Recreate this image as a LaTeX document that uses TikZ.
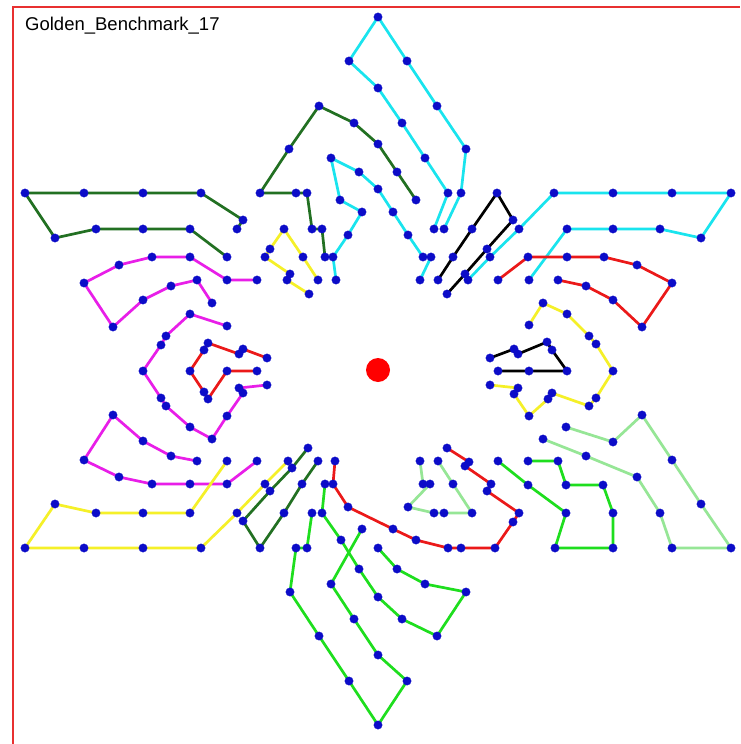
\documentclass[tikz,border=0pt]{standalone}
\usepackage{fontspec}
\setmainfont{Liberation Sans}
\usetikzlibrary{plotmarks}

\definecolor{dotblue}{RGB}{12,12,200}
\definecolor{framered}{RGB}{232,48,48}
\definecolor{tcyan}{RGB}{25,228,238}
\definecolor{tdkgreen}{RGB}{34,112,34}
\definecolor{tmagenta}{RGB}{232,30,232}
\definecolor{tred}{RGB}{235,25,25}
\definecolor{tyellow}{RGB}{245,240,40}
\definecolor{tltgreen}{RGB}{150,230,150}
\definecolor{tgreen}{RGB}{30,222,30}
\definecolor{tblack}{RGB}{0,0,0}

\tikzset{
  trace/.style={draw=#1, line width=2.7pt, line join=round,
    mark=*, mark size=4.2pt,
    mark options={draw=dotblue, fill=dotblue, line width=0.3pt}},
}

\begin{document}
\begin{tikzpicture}[x=1pt,y=-1pt]
  \useasboundingbox (0,0) rectangle (740,744);
  \fill[white] (0,0) rectangle (740,744);

  % frame and title
  \draw[framered, line width=2.4pt] (13,744) -- (13,7) -- (740,7);
  \node[anchor=base west, inner sep=0pt, font=\fontsize{18.5}{20}\selectfont]
    (title) at (25,30.5) {Golden\_Benchmark\_17};

  % top arm
  \draw[trace=tcyan] plot coordinates {(434,229) (448,193) (425,158) (402,123) (378,88) (349,61) (378,17) (407,61) (437,106) (466,149) (461,193) (444,229)};
  \draw[trace=tcyan] plot coordinates {(336,280) (333,257) (348,235) (362,212) (340,200) (331,158) (359,172) (378,189) (393,212) (408,235) (423,257) (431,257) (420,280)};
  \draw[trace=tdkgreen] plot coordinates {(416,200) (397,172) (378,144) (354,123) (319,106) (289,149) (260,193) (296,193) (307,193) (312,229) (322,229) (325,257)};
  \draw[trace=tyellow] plot coordinates {(318,280) (303,257) (284,229) (270,249) (265,257) (290,274) (287,280) (309,294)};
  \draw[trace=tblack] plot coordinates {(438,280) (453,257) (472,229) (497,193) (513,220) (487,249) (465,274) (447,294)};

  % upper left arm
  \draw[trace=tdkgreen] plot coordinates {(237,229) (243,220) (201,193) (143,193) (84,193) (25,193) (55,238) (96,229) (143,229) (190,229) (227,257)};
  \draw[trace=tmagenta] plot coordinates {(257,280) (227,280) (190,257) (152,257) (119,265) (84,283) (113,327) (143,300) (171,286) (197,280) (212,303)};

  % left arm
  \draw[trace=tmagenta] plot coordinates {(227,326) (190,314) (166,336) (161,345) (143,371) (161,398) (166,406) (190,427) (212,439) (227,416) (243,393) (239,388) (267,385)};
  \draw[trace=tred] plot coordinates {(267,358) (243,349) (239,354) (208,343) (204,350) (190,371) (204,392) (208,399) (227,371) (257,371)};

  % lower left arm
  \draw[trace=tmagenta] plot coordinates {(197,461) (171,456) (143,441) (113,415) (84,460) (119,477) (152,484) (190,484) (227,484) (257,461)};
  \draw[trace=tyellow] plot coordinates {(227,461) (190,513) (143,513) (96,513) (55,504) (25,548) (84,548) (143,548) (201,548) (237,513) (265,484) (288,461)};
  \draw[trace=tdkgreen] plot coordinates {(308,448) (292,468) (270,491) (243,521) (260,548) (284,513) (302,484) (318,461)};

  % bottom arm
  \draw[trace=tgreen] plot coordinates {(325,484) (322,513) (341,540) (359,569) (378,597) (402,619) (437,636) (466,592) (425,584) (397,569) (378,548)};
  \draw[trace=tgreen] plot coordinates {(312,513) (307,548) (296,548) (290,592) (319,636) (349,681) (378,725) (407,681) (378,655) (354,619) (331,584) (362,529)};
  \draw[trace=tred] plot coordinates {(335,461) (333,484) (348,507) (393,529) (416,540) (448,548) (461,548) (495,548) (513,522) (519,513) (487,491) (491,484) (465,466) (469,462) (447,448)};
  \draw[trace=tltgreen] plot coordinates {(420,461) (423,484) (430,484) (408,507) (434,513) (444,513) (472,513) (453,484) (438,461)};

  % lower right arm
  \draw[trace=tgreen] plot coordinates {(498,461) (528,485) (566,513) (555,548) (613,548) (613,513) (603,485) (566,485) (558,461) (528,461)};
  \draw[trace=tltgreen] plot coordinates {(566,427) (613,442) (642,415) (672,460) (701,504) (731,548) (672,548) (660,513) (637,477) (586,456) (543,439)};

  % right arm
  \draw[trace=tyellow] plot coordinates {(529,325) (543,303) (567,314) (589,336) (596,344) (613,371) (596,398) (589,406) (552,393) (548,399) (529,416) (514,394) (518,388) (490,385)};
  \draw[trace=tblack] plot coordinates {(490,358) (514,349) (518,354) (547,342) (552,350) (567,371) (529,371) (498,371)};

  % upper right arm
  \draw[trace=tcyan] plot coordinates {(468,280) (490,257) (519,229) (554,193) (613,193) (672,193) (731,193) (701,238) (660,229) (613,229) (567,229) (529,280)};
  \draw[trace=tred] plot coordinates {(498,280) (528,257) (567,257) (604,257) (637,265) (672,283) (642,327) (613,300) (586,286) (558,280)};

  % centre
  \fill[red] (378,370) circle (12);
\end{tikzpicture}
\end{document}
